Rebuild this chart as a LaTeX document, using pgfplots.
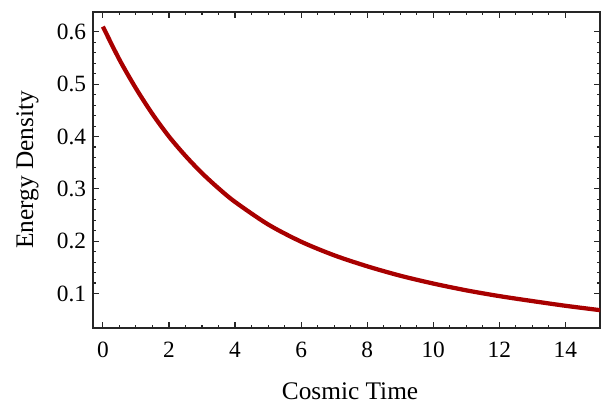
\documentclass[border=0pt]{standalone}
\usepackage{fontspec}
\setmainfont{Liberation Serif}
\usepackage{pgfplots}
\pgfplotsset{compat=1.18}
\definecolor{curvered}{RGB}{168,0,0}
\begin{document}
\begin{tikzpicture}
\useasboundingbox (-69.75pt,-56.25pt) rectangle (381.75pt,246pt);
\begin{axis}[
  at={(0,0)}, anchor=south west,
  scale only axis,
  width=380.25pt, height=237pt,
  xmin=-0.3, xmax=15.05,
  ymin=0.034, ymax=0.638,
  xtick={0,2,4,6,8,10,12,14},
  ytick={0.1,0.2,0.3,0.4,0.5,0.6},
  minor x tick num=3,
  minor y tick num=4,
  major tick length=4.5pt,
  minor tick length=2.3pt,
  tick style={black!85, line width=0.8pt},
  axis line style={black!85, line width=0.9pt},
  /pgf/number format/assume math mode=true,
  /pgf/number format/fixed,
  /pgf/number format/precision=1,
  tick label style={font=\fontsize{17.5}{20}\selectfont},
  xticklabel style={anchor=base, yshift=-22pt},
  yticklabel style={xshift=-1.7pt},
  xlabel={Cosmic Time},
  ylabel={Energy Density},
  every axis x label/.style={at={(axis description cs:0.507,-0.2247)}, anchor=base, font=\fontsize{19}{22}\selectfont},
  every axis y label/.style={at={(axis description cs:-0.1183,0.5)}, anchor=base, rotate=90, font=\fontsize{19}{22}\selectfont},
]
\addplot[curvered, line width=3.2pt, smooth] coordinates {
(0,0.610) (0.5,0.547) (1,0.492) (1.5,0.443) (2,0.400) (2.5,0.363) (3,0.330)
(3.5,0.301) (4,0.275) (5,0.232) (6,0.199) (7,0.173) (8,0.152) (9,0.134)
(10,0.119) (11,0.106) (12,0.095) (13,0.0855) (14,0.0765) (15,0.0685) (15.05,0.0681)
};
\end{axis}
\end{tikzpicture}
\end{document}
